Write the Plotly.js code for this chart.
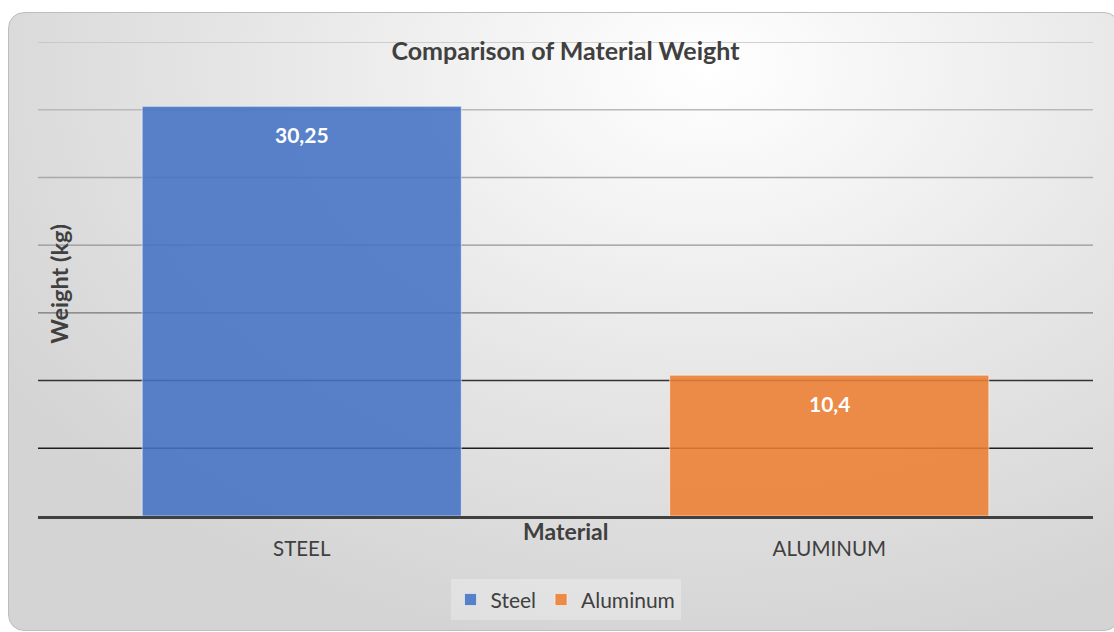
<!DOCTYPE html>
<html>
<head>
<meta charset="utf-8">
<script src="https://cdn.plot.ly/plotly-3.0.1.min.js"></script>
<style>
  html, body { margin: 0; padding: 0; background: #ffffff; width: 1114px; height: 632px; overflow: hidden; }
  #card {
    position: absolute; left: 8px; top: 12px; width: 1110px; height: 617px;
    border: 1px solid #bdbdbd; border-radius: 16px;
    background: radial-gradient(ellipse 75% 95% at 63% 9%, #ffffff 0%, #f6f6f6 20%, #e6e6e6 55%, #d4d4d4 100%);
  }
  #chart { position: absolute; left: 0; top: 0; width: 1114px; height: 632px; }
</style>
</head>
<body>
<div id="card"></div>
<div id="chart"></div>
<script>
// ---- data ----
const categories = ["STEEL", "ALUMINUM"];
const seriesNames = ["Steel", "Aluminum"];
const weights = [30.25, 10.4];
const barColors = ["rgba(68,114,196,0.88)", "rgba(237,125,49,0.88)"];
const gridValues = [5, 10, 15, 20, 25, 30, 35];
const gridColors = ["#1e1e1e", "#333333", "#767676", "#959595", "#a9a9a9", "#b9b9b9", "#c2c2c2"];
const chartTitle = "Comparison of Material Weight";
const xTitle = "Material";
const yTitle = "Weight (kg)";

const FONT = "Lato, 'Open Sans', sans-serif";
const TXT = "#404040";

const traces = categories.map((c, i) => ({
  type: "bar",
  name: seriesNames[i],
  x: [c],
  y: [weights[i]],
  marker: { color: barColors[i], line: { color: "rgba(255,255,255,0.55)", width: 1 } },
  hoverinfo: "skip",
  showlegend: true
}));

const shapes = gridValues.map((v, i) => ({
  type: "line", layer: "below",
  xref: "paper", x0: 0, x1: 1,
  yref: "y", y0: v, y1: v,
  line: { color: gridColors[i], width: 1.4 }
}));

const annotations = categories.map((c, i) => ({
  x: c, y: weights[i], xref: "x", yref: "y",
  text: String(weights[i]).replace(".", ","),
  showarrow: false, yanchor: "middle", yshift: -28,
  font: { family: FONT, size: 21, color: "#ffffff", weight: "bold" }
}));

annotations.push({
  xref: "paper", yref: "paper", x: 0.5, y: -0.032,
  xanchor: "center", yanchor: "middle",
  text: "<b>" + xTitle + "</b>", showarrow: false,
  font: { family: FONT, size: 23, color: TXT }
});
annotations.push({
  xref: "paper", yref: "paper", x: 0.0199, y: 0.49,
  xanchor: "center", yanchor: "middle", textangle: -90,
  text: "<b>" + yTitle + "</b>", showarrow: false,
  font: { family: FONT, size: 23.5, color: TXT }
});

const layout = {
  width: 1114, height: 632,
  margin: { l: 38, r: 21, t: 42, b: 116 },
  paper_bgcolor: "rgba(0,0,0,0)",
  plot_bgcolor: "rgba(0,0,0,0)",
  title: {
    text: "<b>" + chartTitle + "</b>",
    xref: "paper", x: 0.5, xanchor: "center",
    yref: "container", y: 1 - 51 / 632, yanchor: "middle",
    font: { family: FONT, size: 25, color: TXT }
  },
  bargap: 0.395,
  xaxis: {
    type: "category",
    showline: true, linecolor: "#404040", linewidth: 3,
    showgrid: false, zeroline: false, ticks: "",
    ticklabelstandoff: 12,
    tickfont: { family: FONT, size: 20.5, color: TXT },
    fixedrange: true
  },
  yaxis: {
    range: [0, 35], showgrid: false, zeroline: false,
    showticklabels: false, ticks: "", showline: false, fixedrange: true
  },
  shapes: shapes,
  annotations: annotations,
  showlegend: true,
  legend: {
    orientation: "h", xref: "paper", x: 0.5, xanchor: "center",
    yref: "paper", y: -0.177, yanchor: "middle",
    bgcolor: "rgba(255,255,255,0.28)", borderwidth: 0,
    font: { family: FONT, size: 21, color: TXT },
    itemclick: false, itemdoubleclick: false
  }
};

Plotly.newPlot("chart", traces, layout, { displayModeBar: false, staticPlot: true });
</script>
</body>
</html>
